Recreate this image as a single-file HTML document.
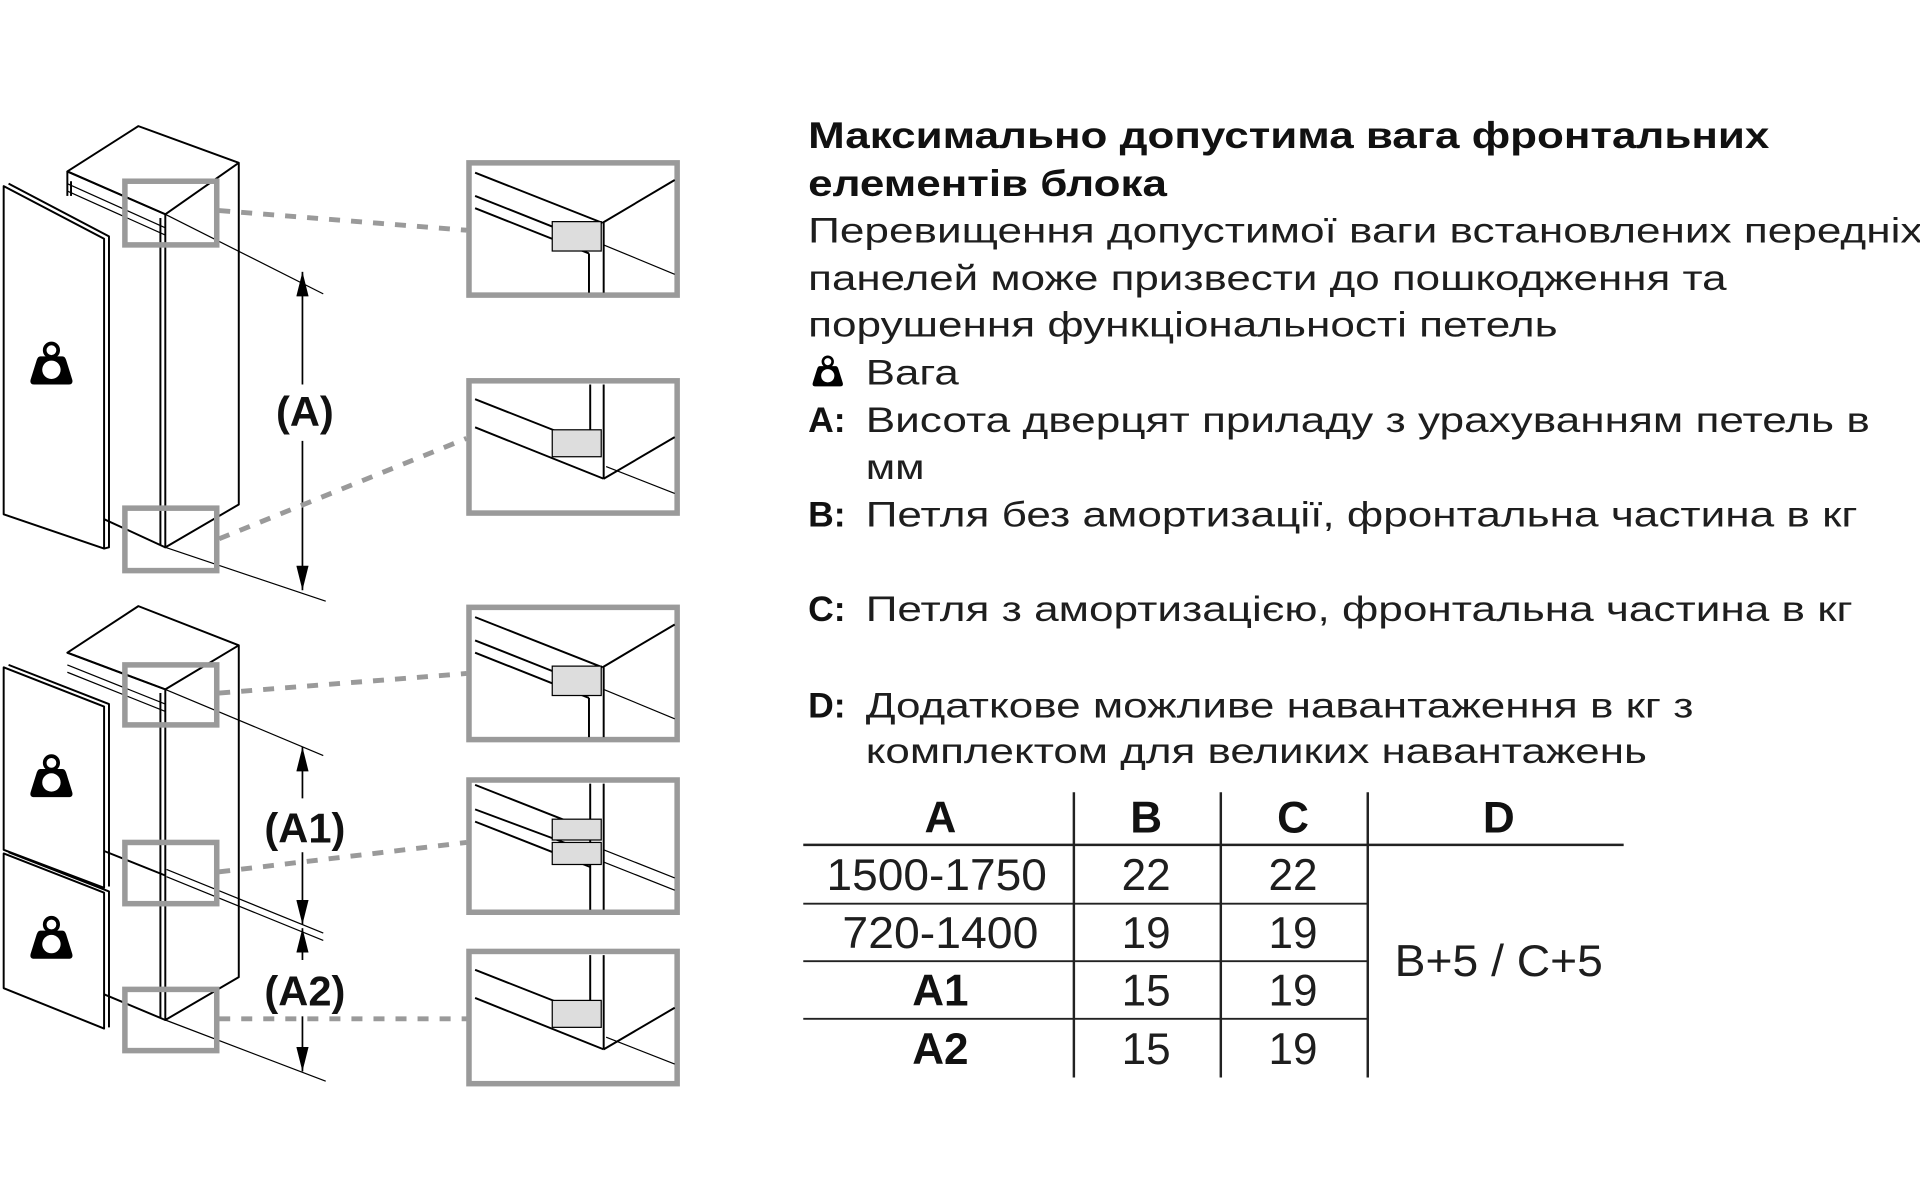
<!DOCTYPE html>
<html><head><meta charset="utf-8"><style>
html,body{margin:0;padding:0;background:#fff;width:1920px;height:1200px;overflow:hidden}
svg{display:block}
text{font-family:"Liberation Sans",Arial,sans-serif;fill:#1e1e1e}
.b{font-weight:bold;fill:#111}
</style></head><body>
<svg width="1920" height="1200" viewBox="0 0 1568 980" xmlns="http://www.w3.org/2000/svg">
<defs>
<g id="wt">
<circle cx="0" cy="-12" r="5.5" fill="none" stroke="#000" stroke-width="3"/>
<path d="M-9,-7 L9,-7 Q11,-7 12,-4 L17,12 Q18,16 14,16 L-14,16 Q-18,16 -17,12 L-12,-4 Q-11,-7 -9,-7 Z" fill="#000"/>
<circle cx="0" cy="4" r="7.5" fill="#fff"/>
</g>
<g id="bx" fill="none">
<rect x="0" y="0" width="170" height="108" stroke="#9a9a9a" stroke-width="4.5" fill="#fff"/>
</g>
<marker id="ah" viewBox="0 0 10 10" refX="10" refY="5" markerWidth="20" markerHeight="10" preserveAspectRatio="none" orient="auto-start-reverse" markerUnits="userSpaceOnUse"><path d="M0,0 L10,5 L0,10 Z" fill="#000"/></marker>
</defs>

<g stroke="#000" stroke-width="1.6" fill="#fff" stroke-linejoin="round">
<polygon points="55,140 113,103 195,133 195,412 135,447 135,175"/>
<polyline points="55,140 135,175 195,133" fill="none"/>
<line x1="55" y1="140" x2="55" y2="160"/>
<line x1="58" y1="148" x2="58" y2="160"/>
<line x1="131" y1="178" x2="131" y2="445"/>
<line x1="55" y1="150" x2="135" y2="186" stroke-width="1"/>
<line x1="55" y1="156" x2="135" y2="192" stroke-width="1"/>
<line x1="85" y1="424" x2="135" y2="447"/>
<polygon points="3,152 85,195 85,448 3,420"/>
<polyline points="7,150 89,193 89,447 85,448" fill="none"/>

<polygon points="55,533 113,495 195,527 195,798 135,833 135,563"/>
<polyline points="55,533 135,563 195,527" fill="none"/>
<line x1="131" y1="566" x2="131" y2="831"/>
<line x1="55" y1="543" x2="135" y2="575" stroke-width="1"/>
<line x1="55" y1="549" x2="135" y2="581" stroke-width="1"/>
<line x1="85" y1="812" x2="135" y2="833"/>
<line x1="85" y1="695" x2="135" y2="715"/>
<polygon points="3,545 85,577 85,725 3,694"/>
<polyline points="7,543 89,575 89,724" fill="none"/>
<polygon points="3,697 85,729 85,840 3,807"/>
<polyline points="7,696 89,728 89,839" fill="none"/>
</g>
<use href="#wt" x="42" y="298"/>
<use href="#wt" x="42" y="635"/>
<use href="#wt" x="42" y="767"/>

<g stroke="#000" stroke-width="1" fill="none">
<line x1="135" y1="175" x2="264" y2="240"/>
<line x1="135" y1="447" x2="266" y2="491"/>
<line x1="135" y1="563" x2="264" y2="617"/>
<line x1="136" y1="710" x2="264" y2="762"/>
<line x1="136" y1="716" x2="264" y2="768"/>
<line x1="135" y1="833" x2="266" y2="883"/>
</g>
<g stroke="#000" stroke-width="1.4">
<line x1="247" y1="222" x2="247" y2="314" marker-start="url(#ah)"/>
<line x1="247" y1="360" x2="247" y2="482" marker-end="url(#ah)"/>
<line x1="247" y1="610" x2="247" y2="652" marker-start="url(#ah)"/>
<line x1="247" y1="696" x2="247" y2="755" marker-end="url(#ah)"/>
<line x1="247" y1="758" x2="247" y2="784" marker-start="url(#ah)"/>
<line x1="247" y1="830" x2="247" y2="875" marker-end="url(#ah)"/>
</g>
<text x="249" y="348" class="b" font-size="34" text-anchor="middle">(A)</text>
<text x="249" y="688" class="b" font-size="34" text-anchor="middle">(A1)</text>
<text x="249" y="821" class="b" font-size="34" text-anchor="middle">(A2)</text>

<g stroke="#9a9a9a" stroke-width="4.5" fill="none">
<rect x="102" y="148" width="75" height="52"/>
<rect x="102" y="415" width="75" height="51"/>
<rect x="102" y="543" width="75" height="49"/>
<rect x="102" y="688" width="75" height="50"/>
<rect x="102" y="808" width="75" height="50"/>
</g>
<g stroke="#9a9a9a" stroke-width="4" stroke-dasharray="9,9" fill="none">
<line x1="179" y1="172" x2="381" y2="188"/>
<line x1="179" y1="440" x2="381" y2="358"/>
<line x1="179" y1="566" x2="381" y2="550"/>
<line x1="179" y1="712" x2="381" y2="688"/>
<line x1="179" y1="832" x2="381" y2="832"/>
</g>

<g id="th" transform="translate(383,133)">
<use href="#bx"/>
<g stroke="#000" stroke-width="1.6" fill="none">
<line x1="5" y1="8" x2="109" y2="49"/>
<line x1="109" y1="49" x2="168" y2="14"/>
<line x1="5" y1="27" x2="68" y2="52"/>
<line x1="5" y1="37" x2="98" y2="74"/>
<rect x="68" y="48" width="40" height="24" fill="#ddd" stroke-width="1"/>
<line x1="98" y1="74" x2="98" y2="106"/>
<line x1="110" y1="49" x2="110" y2="106"/>
<line x1="110" y1="67" x2="168" y2="91" stroke-width="1"/>
</g>
</g>
<use href="#th" transform="translate(0,363)"/>
<g id="bh" transform="translate(383,311)">
<use href="#bx"/>
<g stroke="#000" stroke-width="1.6" fill="none">
<line x1="99" y1="3" x2="99" y2="52"/>
<line x1="110" y1="3" x2="110" y2="80"/>
<line x1="5" y1="15" x2="99" y2="52"/>
<line x1="5" y1="38" x2="110" y2="80"/>
<line x1="110" y1="80" x2="168" y2="46"/>
<rect x="68" y="40" width="40" height="22" fill="#ddd" stroke-width="1"/>
<line x1="112" y1="70" x2="168" y2="92" stroke-width="1"/>
</g>
</g>
<use href="#bh" transform="translate(0,466)"/>
<g transform="translate(383,637)">
<use href="#bx"/>
<g stroke="#000" stroke-width="1.6" fill="none">
<line x1="99" y1="3" x2="99" y2="106"/>
<line x1="110" y1="3" x2="110" y2="106"/>
<line x1="5" y1="4" x2="99" y2="41"/>
<line x1="5" y1="24" x2="99" y2="59"/>
<line x1="5" y1="34" x2="99" y2="71"/>
<rect x="68" y="32" width="40" height="17" fill="#ddd" stroke-width="1"/>
<rect x="68" y="51" width="40" height="18" fill="#ddd" stroke-width="1"/>
<line x1="110" y1="57" x2="168" y2="80" stroke-width="1"/>
<line x1="110" y1="67" x2="168" y2="90" stroke-width="1"/>
</g>
</g>

<text x="660" y="121" class="b" font-size="30" textLength="785" lengthAdjust="spacingAndGlyphs">Максимально допустима вага фронтальних</text>
<text x="660" y="160" class="b" font-size="30" textLength="293" lengthAdjust="spacingAndGlyphs">елементів блока</text>
<g font-size="29">
<text x="660" y="198" textLength="910" lengthAdjust="spacingAndGlyphs">Перевищення допустимої ваги встановлених передніх</text>
<text x="660" y="237" textLength="750" lengthAdjust="spacingAndGlyphs">панелей може призвести до пошкодження та</text>
<text x="660" y="275" textLength="612" lengthAdjust="spacingAndGlyphs">порушення функціональності петель</text>
<text x="707" y="314" textLength="76" lengthAdjust="spacingAndGlyphs">Вага</text>
<text x="660" y="353" class="b">A:</text>
<text x="707" y="353" textLength="820" lengthAdjust="spacingAndGlyphs">Висота дверцят приладу з урахуванням петель в</text>
<text x="707" y="391" textLength="48" lengthAdjust="spacingAndGlyphs">мм</text>
<text x="660" y="430" class="b">B:</text>
<text x="707" y="430" textLength="810" lengthAdjust="spacingAndGlyphs">Петля без амортизації, фронтальна частина в кг</text>
<text x="660" y="507" class="b">C:</text>
<text x="707" y="507" textLength="806" lengthAdjust="spacingAndGlyphs">Петля з амортизацією, фронтальна частина в кг</text>
<text x="660" y="586" class="b">D:</text>
<text x="707" y="586" textLength="676" lengthAdjust="spacingAndGlyphs">Додаткове можливе навантаження в кг з</text>
<text x="707" y="623" textLength="638" lengthAdjust="spacingAndGlyphs">комплектом для великих навантажень</text>
</g>
<use href="#wt" transform="translate(676,304) scale(0.72)"/>

<g stroke="#222" stroke-width="2" fill="none">
<line x1="877" y1="647" x2="877" y2="880"/>
<line x1="997" y1="647" x2="997" y2="880"/>
<line x1="1117" y1="647" x2="1117" y2="880"/>
<line x1="656" y1="690" x2="1326" y2="690"/>
<line x1="656" y1="738" x2="1117" y2="738" stroke-width="1.5"/>
<line x1="656" y1="785" x2="1117" y2="785" stroke-width="1.5"/>
<line x1="656" y1="832" x2="1117" y2="832" stroke-width="1.5"/>
</g>
<g font-size="36" text-anchor="middle">
<text x="768" y="680" class="b">A</text>
<text x="936" y="680" class="b">B</text>
<text x="1056" y="680" class="b">C</text>
<text x="1224" y="680" class="b">D</text>
<text x="765" y="727" textLength="180" lengthAdjust="spacingAndGlyphs">1500-1750</text>
<text x="936" y="727">22</text>
<text x="1056" y="727">22</text>
<text x="768" y="774" textLength="160" lengthAdjust="spacingAndGlyphs">720-1400</text>
<text x="936" y="774">19</text>
<text x="1056" y="774">19</text>
<text x="768" y="821" class="b">A1</text>
<text x="936" y="821">15</text>
<text x="1056" y="821">19</text>
<text x="768" y="869" class="b">A2</text>
<text x="936" y="869">15</text>
<text x="1056" y="869">19</text>
<text x="1224" y="797" textLength="170" lengthAdjust="spacingAndGlyphs">B+5 / C+5</text>
</g>
</svg>
</body></html>
